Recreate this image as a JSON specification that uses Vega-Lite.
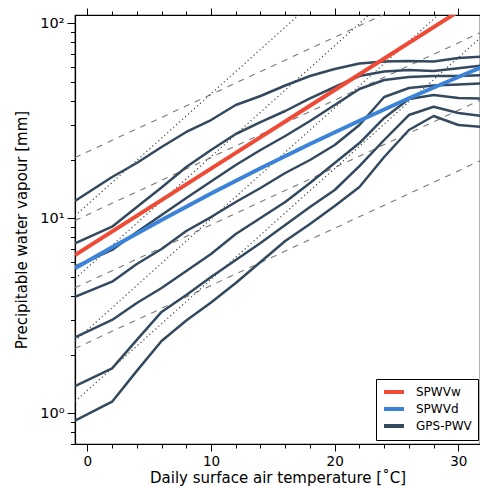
{
  "$schema": "https://vega.github.io/schema/vega-lite/v6.json",
  "width": 405,
  "height": 429,
  "autosize": "none",
  "padding": {"left": 75, "top": 15, "right": 0, "bottom": 44},
  "config": {
    "font": "DejaVu Sans",
    "view": {"stroke": "#000", "strokeWidth": 1.2},
    "legend": {
      "orient": "none", "legendX": 301, "legendY": 364,
      "strokeColor": "#000", "fillColor": "#fff", "padding": 6,
      "symbolType": "M-1,0L3,0", "symbolSize": 100, "symbolStrokeWidth": 4,
      "labelFontSize": 12, "labelColor": "#000", "rowPadding": 1, "labelOffset": 20,
      "title": null, "cornerRadius": 0
    }
  },
  "resolve": {"axis": {"x": "independent"}},
  "datasets": {
    "ref": [
      {"ref": "d1", "style": "dashed", "T": -1, "v": 20.5}, {"ref": "d1", "style": "dashed", "T": 32, "v": 191.2},
      {"ref": "d2", "style": "dashed", "T": -1, "v": 9.75}, {"ref": "d2", "style": "dashed", "T": 32, "v": 90.9},
      {"ref": "d3", "style": "dashed", "T": -1, "v": 4.4}, {"ref": "d3", "style": "dashed", "T": 32, "v": 41.0},
      {"ref": "d4", "style": "dashed", "T": -1, "v": 2.15}, {"ref": "d4", "style": "dashed", "T": 32, "v": 20.05},
      {"ref": "o1", "style": "dotted", "T": -1, "v": 10.3}, {"ref": "o1", "style": "dotted", "T": 32, "v": 777.6},
      {"ref": "o2", "style": "dotted", "T": -1, "v": 4.9}, {"ref": "o2", "style": "dotted", "T": 32, "v": 370},
      {"ref": "o3", "style": "dotted", "T": -1, "v": 2.35}, {"ref": "o3", "style": "dotted", "T": 32, "v": 177.4},
      {"ref": "o4", "style": "dotted", "T": -1, "v": 1.15}, {"ref": "o4", "style": "dotted", "T": 32, "v": 86.8}
    ],
    "gps": [
      {"line": "L1", "series": "GPS-PWV", "T": -1, "v": 12.27}, {"line": "L1", "series": "GPS-PWV", "T": 2, "v": 16.28}, {"line": "L1", "series": "GPS-PWV", "T": 4, "v": 19.21}, {"line": "L1", "series": "GPS-PWV", "T": 6, "v": 23.21}, {"line": "L1", "series": "GPS-PWV", "T": 8, "v": 27.71}, {"line": "L1", "series": "GPS-PWV", "T": 10, "v": 31.92}, {"line": "L1", "series": "GPS-PWV", "T": 12, "v": 38.1}, {"line": "L1", "series": "GPS-PWV", "T": 14, "v": 42.39}, {"line": "L1", "series": "GPS-PWV", "T": 16, "v": 47.98}, {"line": "L1", "series": "GPS-PWV", "T": 18, "v": 53.67}, {"line": "L1", "series": "GPS-PWV", "T": 20, "v": 58.3}, {"line": "L1", "series": "GPS-PWV", "T": 22, "v": 62.2}, {"line": "L1", "series": "GPS-PWV", "T": 24, "v": 63.7}, {"line": "L1", "series": "GPS-PWV", "T": 26, "v": 64.08}, {"line": "L1", "series": "GPS-PWV", "T": 28, "v": 63.7}, {"line": "L1", "series": "GPS-PWV", "T": 30, "v": 66.39}, {"line": "L1", "series": "GPS-PWV", "T": 32, "v": 67.57},
      {"line": "L2", "series": "GPS-PWV", "T": -1, "v": 7.44}, {"line": "L2", "series": "GPS-PWV", "T": 2, "v": 9.06}, {"line": "L2", "series": "GPS-PWV", "T": 4, "v": 11.43}, {"line": "L2", "series": "GPS-PWV", "T": 6, "v": 14.38}, {"line": "L2", "series": "GPS-PWV", "T": 8, "v": 18.33}, {"line": "L2", "series": "GPS-PWV", "T": 10, "v": 22.4}, {"line": "L2", "series": "GPS-PWV", "T": 12, "v": 27.06}, {"line": "L2", "series": "GPS-PWV", "T": 14, "v": 31.17}, {"line": "L2", "series": "GPS-PWV", "T": 16, "v": 35.5}, {"line": "L2", "series": "GPS-PWV", "T": 18, "v": 41.25}, {"line": "L2", "series": "GPS-PWV", "T": 20, "v": 47.13}, {"line": "L2", "series": "GPS-PWV", "T": 22, "v": 53.67}, {"line": "L2", "series": "GPS-PWV", "T": 24, "v": 56.6}, {"line": "L2", "series": "GPS-PWV", "T": 26, "v": 57.6}, {"line": "L2", "series": "GPS-PWV", "T": 28, "v": 56.9}, {"line": "L2", "series": "GPS-PWV", "T": 30, "v": 58.8}, {"line": "L2", "series": "GPS-PWV", "T": 32, "v": 60.8},
      {"line": "L3", "series": "GPS-PWV", "T": -1, "v": 5.65}, {"line": "L3", "series": "GPS-PWV", "T": 2, "v": 6.88}, {"line": "L3", "series": "GPS-PWV", "T": 4, "v": 8.51}, {"line": "L3", "series": "GPS-PWV", "T": 6, "v": 10.4}, {"line": "L3", "series": "GPS-PWV", "T": 8, "v": 12.71}, {"line": "L3", "series": "GPS-PWV", "T": 10, "v": 15.44}, {"line": "L3", "series": "GPS-PWV", "T": 12, "v": 18.76}, {"line": "L3", "series": "GPS-PWV", "T": 14, "v": 22.4}, {"line": "L3", "series": "GPS-PWV", "T": 16, "v": 26.42}, {"line": "L3", "series": "GPS-PWV", "T": 18, "v": 31.55}, {"line": "L3", "series": "GPS-PWV", "T": 20, "v": 38.1}, {"line": "L3", "series": "GPS-PWV", "T": 22, "v": 46.04}, {"line": "L3", "series": "GPS-PWV", "T": 24, "v": 51.19}, {"line": "L3", "series": "GPS-PWV", "T": 26, "v": 53.04}, {"line": "L3", "series": "GPS-PWV", "T": 28, "v": 53.67}, {"line": "L3", "series": "GPS-PWV", "T": 30, "v": 53.67}, {"line": "L3", "series": "GPS-PWV", "T": 32, "v": 54.31},
      {"line": "L4", "series": "GPS-PWV", "T": -1, "v": 3.96}, {"line": "L4", "series": "GPS-PWV", "T": 2, "v": 4.73}, {"line": "L4", "series": "GPS-PWV", "T": 4, "v": 5.83}, {"line": "L4", "series": "GPS-PWV", "T": 6, "v": 6.96}, {"line": "L4", "series": "GPS-PWV", "T": 8, "v": 8.61}, {"line": "L4", "series": "GPS-PWV", "T": 10, "v": 10.15}, {"line": "L4", "series": "GPS-PWV", "T": 12, "v": 12.12}, {"line": "L4", "series": "GPS-PWV", "T": 14, "v": 14.3}, {"line": "L4", "series": "GPS-PWV", "T": 16, "v": 17.07}, {"line": "L4", "series": "GPS-PWV", "T": 18, "v": 19.91}, {"line": "L4", "series": "GPS-PWV", "T": 20, "v": 23.76}, {"line": "L4", "series": "GPS-PWV", "T": 22, "v": 30.1}, {"line": "L4", "series": "GPS-PWV", "T": 24, "v": 41.89}, {"line": "L4", "series": "GPS-PWV", "T": 26, "v": 46.58}, {"line": "L4", "series": "GPS-PWV", "T": 28, "v": 47.98}, {"line": "L4", "series": "GPS-PWV", "T": 30, "v": 48.55}, {"line": "L4", "series": "GPS-PWV", "T": 32, "v": 49.23},
      {"line": "L5", "series": "GPS-PWV", "T": -1, "v": 2.45}, {"line": "L5", "series": "GPS-PWV", "T": 2, "v": 3.01}, {"line": "L5", "series": "GPS-PWV", "T": 4, "v": 3.68}, {"line": "L5", "series": "GPS-PWV", "T": 6, "v": 4.39}, {"line": "L5", "series": "GPS-PWV", "T": 8, "v": 5.37}, {"line": "L5", "series": "GPS-PWV", "T": 10, "v": 6.56}, {"line": "L5", "series": "GPS-PWV", "T": 12, "v": 8.31}, {"line": "L5", "series": "GPS-PWV", "T": 14, "v": 10.04}, {"line": "L5", "series": "GPS-PWV", "T": 16, "v": 12.12}, {"line": "L5", "series": "GPS-PWV", "T": 18, "v": 15.17}, {"line": "L5", "series": "GPS-PWV", "T": 20, "v": 19.21}, {"line": "L5", "series": "GPS-PWV", "T": 22, "v": 24.33}, {"line": "L5", "series": "GPS-PWV", "T": 24, "v": 32.69}, {"line": "L5", "series": "GPS-PWV", "T": 26, "v": 40.91}, {"line": "L5", "series": "GPS-PWV", "T": 28, "v": 42.89}, {"line": "L5", "series": "GPS-PWV", "T": 30, "v": 41.4}, {"line": "L5", "series": "GPS-PWV", "T": 32, "v": 41.16},
      {"line": "L6", "series": "GPS-PWV", "T": -1, "v": 1.38}, {"line": "L6", "series": "GPS-PWV", "T": 2, "v": 1.7}, {"line": "L6", "series": "GPS-PWV", "T": 4, "v": 2.38}, {"line": "L6", "series": "GPS-PWV", "T": 6, "v": 3.31}, {"line": "L6", "series": "GPS-PWV", "T": 8, "v": 4.04}, {"line": "L6", "series": "GPS-PWV", "T": 10, "v": 5.0}, {"line": "L6", "series": "GPS-PWV", "T": 12, "v": 6.11}, {"line": "L6", "series": "GPS-PWV", "T": 14, "v": 7.47}, {"line": "L6", "series": "GPS-PWV", "T": 16, "v": 9.24}, {"line": "L6", "series": "GPS-PWV", "T": 18, "v": 11.43}, {"line": "L6", "series": "GPS-PWV", "T": 20, "v": 13.97}, {"line": "L6", "series": "GPS-PWV", "T": 22, "v": 18.54}, {"line": "L6", "series": "GPS-PWV", "T": 24, "v": 25.21}, {"line": "L6", "series": "GPS-PWV", "T": 26, "v": 33.86}, {"line": "L6", "series": "GPS-PWV", "T": 28, "v": 37.35}, {"line": "L6", "series": "GPS-PWV", "T": 30, "v": 34.67}, {"line": "L6", "series": "GPS-PWV", "T": 32, "v": 33.46},
      {"line": "L7", "series": "GPS-PWV", "T": -1, "v": 0.916}, {"line": "L7", "series": "GPS-PWV", "T": 2, "v": 1.147}, {"line": "L7", "series": "GPS-PWV", "T": 4, "v": 1.65}, {"line": "L7", "series": "GPS-PWV", "T": 6, "v": 2.35}, {"line": "L7", "series": "GPS-PWV", "T": 8, "v": 2.99}, {"line": "L7", "series": "GPS-PWV", "T": 10, "v": 3.7}, {"line": "L7", "series": "GPS-PWV", "T": 12, "v": 4.66}, {"line": "L7", "series": "GPS-PWV", "T": 14, "v": 5.97}, {"line": "L7", "series": "GPS-PWV", "T": 16, "v": 7.65}, {"line": "L7", "series": "GPS-PWV", "T": 18, "v": 9.35}, {"line": "L7", "series": "GPS-PWV", "T": 20, "v": 11.56}, {"line": "L7", "series": "GPS-PWV", "T": 22, "v": 14.47}, {"line": "L7", "series": "GPS-PWV", "T": 24, "v": 20.63}, {"line": "L7", "series": "GPS-PWV", "T": 26, "v": 28.37}, {"line": "L7", "series": "GPS-PWV", "T": 28, "v": 33.46}, {"line": "L7", "series": "GPS-PWV", "T": 30, "v": 30.1}, {"line": "L7", "series": "GPS-PWV", "T": 32, "v": 29.4}
    ],
    "spwd": [
      {"series": "SPWVd", "T": -1, "v": 5.54}, {"series": "SPWVd", "T": 2, "v": 7.11}, {"series": "SPWVd", "T": 6, "v": 9.81}, {"series": "SPWVd", "T": 10, "v": 13.39}, {"series": "SPWVd", "T": 14, "v": 18.05}, {"series": "SPWVd", "T": 18, "v": 24.05}, {"series": "SPWVd", "T": 22, "v": 31.66}, {"series": "SPWVd", "T": 26, "v": 41.25}, {"series": "SPWVd", "T": 30, "v": 53.04}, {"series": "SPWVd", "T": 32, "v": 59.98}
    ],
    "spww": [
      {"series": "SPWVw", "T": -1, "v": 6.48}, {"series": "SPWVw", "T": 10, "v": 17.99}, {"series": "SPWVw", "T": 20, "v": 45.5}, {"series": "SPWVw", "T": 32, "v": 138.5}
    ]
  },
  "encoding": {
    "y": {"field": "v", "type": "quantitative", "scale": {"type": "log", "domain": [0.696, 110.3], "nice": false},
      "axis": {"orient": "left", "title": "Precipitable water vapour [mm]", "titleFontSize": 15, "titleFontWeight": "normal", "titleColor": "#000", "titlePadding": 10,
        "grid": false, "domainColor": "#000", "domainWidth": 1.2, "tickColor": "#000", "tickWidth": 1,
        "labelFontSize": 14.5, "labelColor": "#000", "labelPadding": 3, "labelFlush": false, "labelOverlap": false,
        "values": [0.7, 0.8, 0.9, 1, 2, 3, 4, 5, 6, 7, 8, 9, 10, 20, 30, 40, 50, 60, 70, 80, 90, 100],
        "labelExpr": "datum.value == 1 ? '10⁰' : datum.value == 10 ? '10¹' : datum.value == 100 ? '10²' : ''",
        "tickSize": {"condition": {"test": "datum.value == 1 || datum.value == 10 || datum.value == 100", "value": 8}, "value": 4.5}}}
  },
  "layer": [
    {
      "data": {"name": "ref"},
      "transform": [{"filter": "datum.style == 'dashed'"}],
      "mark": {"type": "line", "clip": true, "stroke": "#7a7a7a", "strokeWidth": 1.1, "strokeDash": [6, 6], "strokeCap": "butt"},
      "encoding": {
        "x": {"field": "T", "type": "quantitative", "scale": {"domain": [-1, 31.75], "nice": false, "zero": false},
          "axis": {"orient": "top", "labels": false, "title": null, "grid": false, "domainColor": "#000", "domainWidth": 1.2, "tickColor": "#000", "tickWidth": 1,
            "values": [0, 2, 4, 6, 8, 10, 12, 14, 16, 18, 20, 22, 24, 26, 28, 30],
            "tickSize": {"condition": {"test": "datum.value % 10 == 0", "value": 7}, "value": 4}}},
        "detail": {"field": "ref"}
      }
    },
    {
      "data": {"name": "ref"},
      "transform": [{"filter": "datum.style == 'dotted'"}],
      "mark": {"type": "line", "clip": true, "stroke": "#444444", "strokeWidth": 1.2, "strokeDash": [1.2, 2.8], "strokeCap": "butt"},
      "encoding": {
        "x": {"field": "T", "type": "quantitative", "axis": null},
        "detail": {"field": "ref"}
      }
    },
    {
      "data": {"name": "gps"},
      "mark": {"type": "line", "clip": true, "strokeWidth": 2.5, "strokeJoin": "round", "strokeCap": "butt"},
      "encoding": {
        "x": {"field": "T", "type": "quantitative",
          "axis": {"orient": "bottom", "title": "Daily surface air temperature [˚C]", "titleFontSize": 15, "titleFontWeight": "normal", "titleColor": "#000", "titlePadding": 3,
            "grid": false, "domainColor": "#000", "domainWidth": 1.2, "tickColor": "#000", "tickWidth": 1,
            "labelFontSize": 13.5, "labelColor": "#000", "labelPadding": 3, "labelFlush": false, "labelOverlap": false,
            "values": [0, 2, 4, 6, 8, 10, 12, 14, 16, 18, 20, 22, 24, 26, 28, 30],
            "labelExpr": "datum.value % 10 == 0 ? datum.label : ''",
            "tickSize": {"condition": {"test": "datum.value % 10 == 0", "value": 7}, "value": 4}}},
        "detail": {"field": "line"},
        "color": {"field": "series", "type": "nominal",
          "scale": {"domain": ["SPWVw", "SPWVd", "GPS-PWV"], "range": ["#ef4a36", "#3b83d8", "#34495e"]}}
      }
    },
    {
      "data": {"name": "spwd"},
      "mark": {"type": "line", "clip": true, "strokeWidth": 4, "strokeCap": "butt"},
      "encoding": {
        "x": {"field": "T", "type": "quantitative", "axis": null},
        "color": {"field": "series", "type": "nominal"}
      }
    },
    {
      "data": {"name": "spww"},
      "mark": {"type": "line", "clip": true, "strokeWidth": 4, "strokeCap": "butt"},
      "encoding": {
        "x": {"field": "T", "type": "quantitative", "axis": null},
        "color": {"field": "series", "type": "nominal"}
      }
    }
  ]
}
